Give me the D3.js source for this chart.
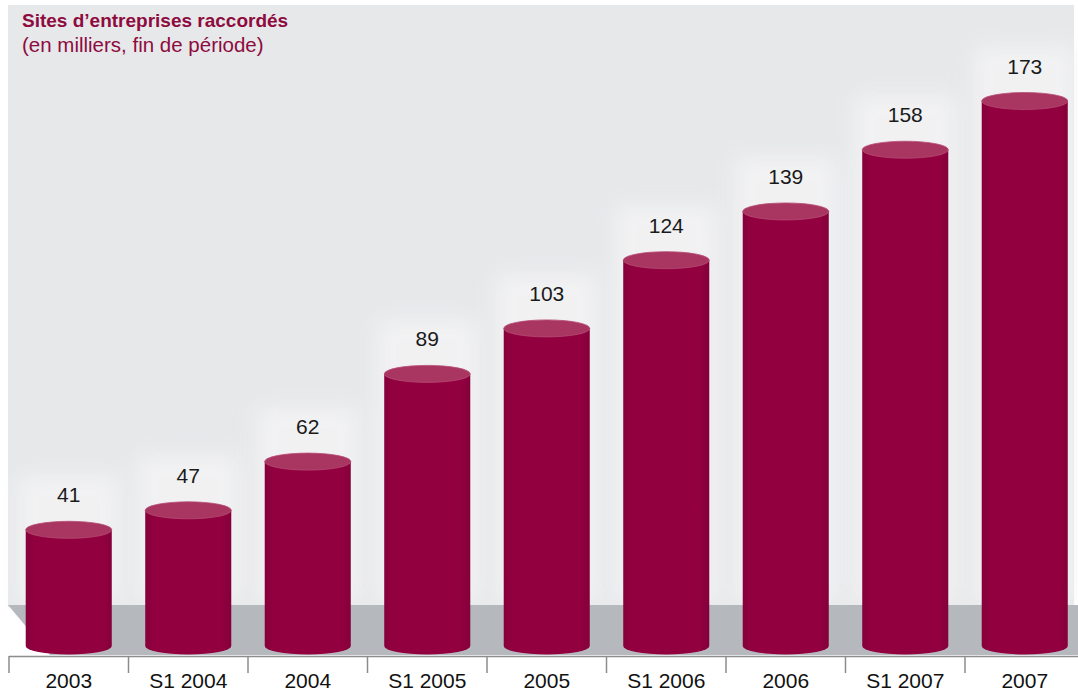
<!DOCTYPE html>
<html>
<head>
<meta charset="utf-8">
<script src="https://cdn.jsdelivr.net/npm/d3@7"></script>
<style>
  html, body { margin: 0; padding: 0; background: #ffffff; }
  svg { display: block; }
  text { font-family: "Liberation Sans", Arial, sans-serif; }
</style>
</head>
<body>
<svg id="chart" width="1078" height="692"></svg>
<script>
// Connected business sites, thousands, end of period
const categories = ["2003", "S1 2004", "2004", "S1 2005", "2005", "S1 2006", "2006", "S1 2007", "2007"];
const values = [41, 47, 62, 89, 103, 124, 139, 158, 173];
const titleText = "Sites d\u2019entreprises raccordés";
const subtitleText = "(en milliers, fin de période)";

const svg = d3.select("#chart");

const x = d3.scaleBand().domain(categories).range([9, 9 + 119.5 * categories.length]).padding(0);
const y = d3.scaleLinear().domain([0, 173]).range([663, 101]);

const barW = x.bandwidth() * 0.72;
const rx = barW / 2, ry = 8.5;
const baseY = 646;

const defs = svg.append("defs");
const bodyGrad = defs.append("linearGradient").attr("id", "body").attr("x1", "0").attr("x2", "1");
bodyGrad.append("stop").attr("offset", "0").attr("stop-color", "#86003a");
bodyGrad.append("stop").attr("offset", "0.12").attr("stop-color", "#930040");
bodyGrad.append("stop").attr("offset", "0.88").attr("stop-color", "#930040");
bodyGrad.append("stop").attr("offset", "1").attr("stop-color", "#84003a");

const glow = defs.append("filter").attr("id", "glow").attr("x", "-50%").attr("y", "-20%").attr("width", "200%").attr("height", "140%");
glow.append("feGaussianBlur").attr("stdDeviation", 10);

// backdrop panel
svg.append("rect").attr("x", 8).attr("y", 5).attr("width", 1066).attr("height", 602).attr("fill", "#e7e8ea");

// light halo columns behind the bars
svg.append("g").selectAll("rect").data(values).join("rect")
  .attr("x", (d, i) => x(categories[i]) + x.bandwidth() / 2 - rx - 8)
  .attr("y", d => y(d) - 55)
  .attr("width", barW + 16)
  .attr("height", d => 605 - (y(d) - 55))
  .attr("fill", "#f4f4f5")
  .attr("opacity", 0.8)
  .attr("filter", "url(#glow)");

// floor
svg.append("path")
  .attr("d", "M8,605 L1078,605 L1078,655 L50,655 Z")
  .attr("fill", "#b5b9be");

// axis baseline and ticks
svg.append("line").attr("x1", 9).attr("x2", 1078).attr("y1", 656.5).attr("y2", 656.5)
  .attr("stroke", "#8c8c8c").attr("stroke-width", 1.5);
const tickXs = categories.map(c => x(c));
svg.append("g").selectAll("line").data(tickXs).join("line")
  .attr("x1", d => d).attr("x2", d => d)
  .attr("y1", 656).attr("y2", 673)
  .attr("stroke", "#8c8c8c").attr("stroke-width", 1.5);

// cylinders
const bars = svg.append("g").selectAll("g").data(values).join("g")
  .attr("transform", (d, i) => `translate(${x(categories[i]) + x.bandwidth() / 2},0)`);

bars.append("path")
  .attr("d", d => {
    const yt = y(d);
    return `M${-rx},${yt} L${-rx},${baseY} A${rx},${ry} 0 0 0 ${rx},${baseY} L${rx},${yt} Z`;
  })
  .attr("fill", "url(#body)");

bars.append("ellipse")
  .attr("cx", 0).attr("cy", d => y(d))
  .attr("rx", rx).attr("ry", ry)
  .attr("fill", "#a83661")
  .attr("stroke", "#b64a72").attr("stroke-width", 0.8);

// value labels
bars.append("text")
  .attr("x", 0)
  .attr("y", d => y(d) - ry - 19)
  .attr("text-anchor", "middle")
  .attr("font-size", 21)
  .attr("fill", "#1a1a1a")
  .text(d => d);

// category labels
svg.append("g").selectAll("text").data(categories).join("text")
  .attr("x", d => x(d) + x.bandwidth() / 2)
  .attr("y", 688)
  .attr("text-anchor", "middle")
  .attr("font-size", 21)
  .attr("fill", "#111")
  .text(d => d);

// titles
svg.append("text").attr("x", 22).attr("y", 27)
  .attr("font-size", 19).attr("font-weight", "bold").attr("fill", "#8e0b40")
  .text(titleText);
svg.append("text").attr("x", 22).attr("y", 52)
  .attr("font-size", 20.5).attr("fill", "#8e0b40")
  .text(subtitleText);
</script>
</body>
</html>
